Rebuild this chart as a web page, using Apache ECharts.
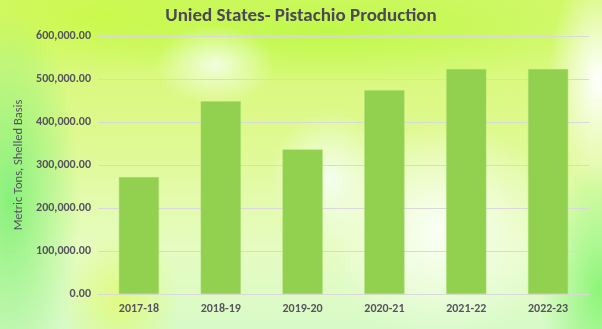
<!DOCTYPE html>
<html>
<head>
<meta charset="utf-8">
<script src="https://cdn.jsdelivr.net/npm/echarts@6/dist/echarts.min.js"></script>
<style>
  html, body { margin: 0; padding: 0; }
  #chart {
    width: 602px; height: 329px;
    background:
      radial-gradient(ellipse 60px 40px at 215px 65px, rgba(245,255,232,0.9), rgba(245,255,232,0) 100%),
      radial-gradient(ellipse 120px 110px at 440px 230px, rgba(250,255,248,0.95), rgba(250,255,248,0) 100%),
      radial-gradient(ellipse 60px 70px at 330px 180px, rgba(245,255,245,0.9), rgba(245,255,245,0) 100%),
      radial-gradient(ellipse 50px 110px at 598px 80px, rgba(255,255,255,1), rgba(255,255,255,0) 100%),
      radial-gradient(ellipse 70px 190px at 10px 200px, rgba(130,240,120,0.95), rgba(130,240,120,0) 100%),
      radial-gradient(ellipse 60px 130px at 600px 290px, rgba(135,245,115,0.95), rgba(135,245,115,0) 100%),
      radial-gradient(ellipse 60px 70px at 120px 300px, rgba(225,250,110,0.8), rgba(225,250,110,0) 100%),
      radial-gradient(ellipse 280px 55px at 330px 30px, rgba(190,248,70,0.95), rgba(190,248,70,0) 100%),
      radial-gradient(ellipse 160px 60px at 100px 15px, rgba(205,248,75,0.95), rgba(205,248,75,0) 100%),
      linear-gradient(180deg, #d2f86a 0%, #def98e 40%, #e6fcc0 75%, #d8fac8 100%);
  }
</style>
</head>
<body>
<div id="chart"></div>
<script>
// Marketing years and production (metric tons, shelled basis)
const seasons = ['2017-18', '2018-19', '2019-20', '2020-21', '2021-22', '2022-23'];
const production = [272000, 448000, 336000, 474000, 523000, 523000];

const chart = echarts.init(document.getElementById('chart'), null, { renderer: 'canvas' });
const fontFamily = 'Carlito, Calibri, Lato, "Liberation Sans", sans-serif';
const labelColor = '#56535f';

chart.setOption({
  backgroundColor: 'transparent',
  animation: false,
  textStyle: { fontFamily: fontFamily },
  title: {
    text: 'Unied States- Pistachio Production',
    left: 'center',
    top: 2,
    textStyle: { fontFamily: fontFamily, fontSize: 19, fontWeight: 'bold', color: '#4b4858' }
  },
  grid: { left: 98, right: 13, top: 36, bottom: 35, containLabel: false },
  xAxis: {
    type: 'category',
    data: seasons,
    axisLine: { show: true, lineStyle: { color: '#d9d9d9', width: 1 } },
    axisTick: { show: false },
    axisLabel: { color: labelColor, fontSize: 12, fontWeight: 'bold', margin: 9, fontFamily: fontFamily }
  },
  yAxis: {
    type: 'value',
    min: 0,
    max: 600000,
    interval: 100000,
    name: 'Metric Tons, Shelled Basis',
    nameLocation: 'middle',
    nameGap: 66,
    nameTextStyle: { color: labelColor, fontSize: 12.5, fontFamily: fontFamily },
    axisLine: { show: false },
    axisTick: { show: false },
    splitLine: { lineStyle: { color: '#d9d9d9', width: 1 } },
    axisLabel: {
      color: labelColor, fontSize: 12, fontWeight: 'bold', margin: 7, fontFamily: fontFamily,
      formatter: v => v.toLocaleString('en-US', { minimumFractionDigits: 2, maximumFractionDigits: 2 })
    }
  },
  series: [{
    type: 'bar',
    data: production,
    barWidth: '49%',
    itemStyle: { color: '#92d050', borderColor: '#a9dc6e', borderWidth: 0.5 }
  }]
});
</script>
</body>
</html>
